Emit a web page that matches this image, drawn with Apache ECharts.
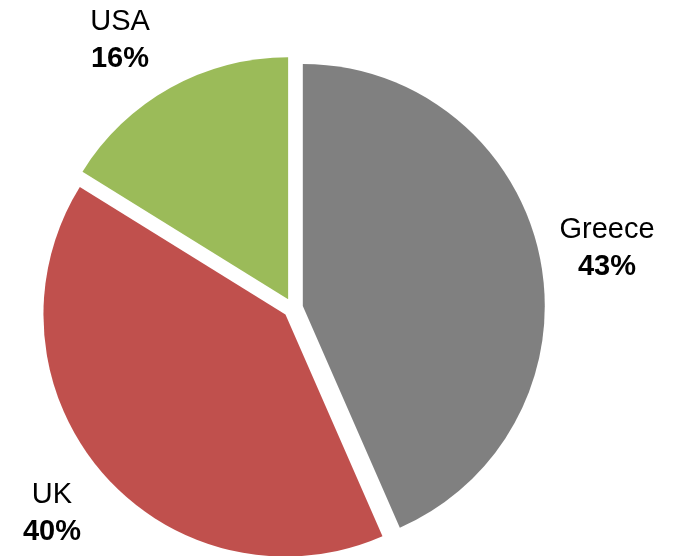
<!DOCTYPE html>
<html>
<head>
<meta charset="utf-8">
<script src="https://cdn.jsdelivr.net/npm/echarts@6/dist/echarts.min.js"></script>
<style>
  html, body { margin: 0; padding: 0; background: #fff; }
  #chart { width: 681px; height: 556px; }
</style>
</head>
<body>
<div id="chart"></div>
<script>
// data
const countries = ['Greece', 'UK', 'USA'];
const shares = [43, 40, 16];
const sliceColors = ['#808080', '#C0504D', '#9BBB59'];

// label block centres (px), in the order of countries
const labelPos = [[607, 248], [52, 513], [120, 40]];

const textRich = {
  n: { fontFamily: 'Liberation Sans', fontSize: 29, color: '#000', lineHeight: 37 },
  p: { fontFamily: 'Liberation Sans', fontSize: 29, fontWeight: 'bold', color: '#000', lineHeight: 37 }
};

const chart = echarts.init(document.getElementById('chart'));
chart.setOption({
  animation: false,
  // category labels, built from the same arrays
  graphic: countries.map((c, i) => ({
    type: 'text',
    x: labelPos[i][0],
    y: labelPos[i][1],
    silent: true,
    style: {
      text: '{n|' + c + '}\n{p|' + shares[i] + '%}',
      rich: textRich,
      align: 'center',
      verticalAlign: 'middle'
    }
  })),
  series: [{
    type: 'pie',
    center: [293, 308],
    radius: 242,
    startAngle: 90,
    clockwise: true,
    selectedMode: 'multiple',
    selectedOffset: 10,
    emphasis: { disabled: true },
    label: { show: false },
    labelLine: { show: false },
    data: countries.map((c, i) => ({
      name: c,
      value: shares[i],
      selected: true,
      itemStyle: { color: sliceColors[i] }
    }))
  }]
});
</script>
</body>
</html>
